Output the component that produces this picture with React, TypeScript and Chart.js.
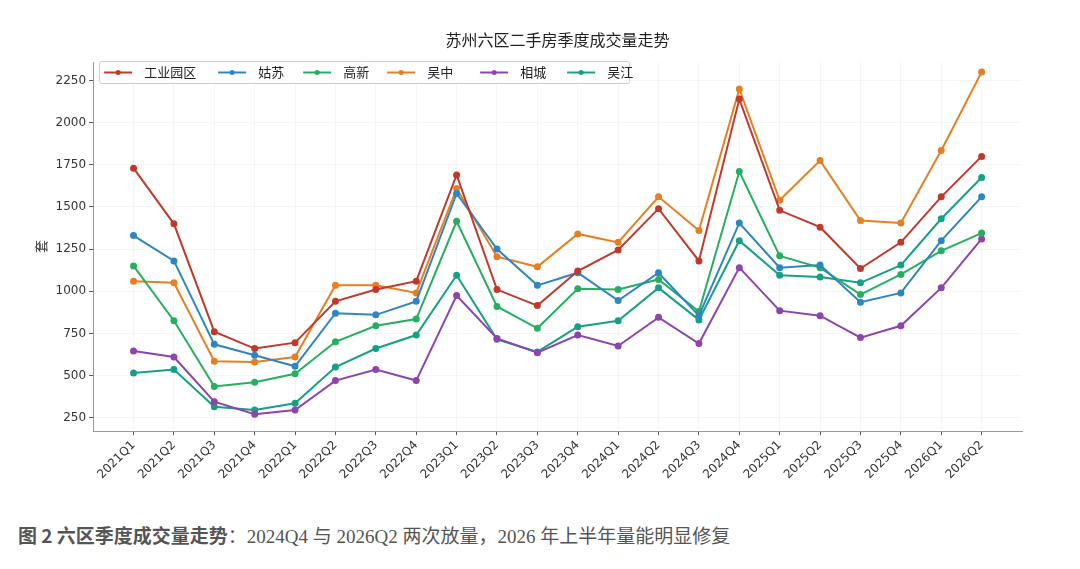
import React, { useEffect, useRef } from "react";
import { Chart, registerables } from "chart.js";
Chart.register(...registerables);

const quarters = ["2021Q1","2021Q2","2021Q3","2021Q4","2022Q1","2022Q2","2022Q3","2022Q4","2023Q1","2023Q2","2023Q3","2023Q4","2024Q1","2024Q2","2024Q3","2024Q4","2025Q1","2025Q2","2025Q3","2025Q4","2026Q1","2026Q2"];
const sip = [1730,1400,760,660,695,940,1010,1060,1690,1010,915,1120,1245,1490,1180,2140,1480,1380,1135,1290,1560,1800];
const gusu = [1330,1180,685,620,555,870,860,940,1580,1250,1035,1110,945,1110,855,1405,1140,1155,935,990,1300,1560];
const gaoxin = [1150,825,435,460,510,700,795,835,1415,910,780,1015,1010,1070,880,1710,1210,1140,980,1100,1240,1345];
const wuzhong = [1060,1050,585,580,610,1035,1035,990,1610,1205,1145,1340,1290,1560,1360,2200,1540,1775,1420,1405,1835,2300];
const xiangcheng = [645,610,345,270,295,470,535,470,975,720,635,740,675,845,690,1140,885,855,725,795,1020,1310];
const wujiang = [515,535,315,295,335,550,660,740,1095,715,640,790,825,1020,830,1300,1095,1085,1050,1155,1430,1675];
const seriesNames = ["工业园区","姑苏","高新","吴中","相城","吴江"];
const seriesColors = ["#c0392b","#2e86c1","#27ae60","#e67e22","#8e44ad","#16a085"];
const yTicks = [250,500,750,1000,1250,1500,1750,2000,2250];

const FONT = "'DejaVu Sans', 'Noto Sans CJK SC', sans-serif";

export default function App() {
  const ref = useRef<HTMLCanvasElement>(null);
  useEffect(() => {
    const all = [sip, gusu, gaoxin, wuzhong, xiangcheng, wujiang];
    const titlePlugin = {
      id: "ctitle",
      afterDraw(chart: any) {
        const { ctx, chartArea } = chart;
        ctx.save();
        ctx.font = `16px 'Noto Sans CJK SC', sans-serif`;
        ctx.fillStyle = "#222";
        ctx.textAlign = "center";
        ctx.textBaseline = "middle";
        ctx.fillText("苏州六区二手房季度成交量走势", (chartArea.left + chartArea.right) / 2, 32);
        const x0 = chartArea.left + 6, y0 = chartArea.top - 1, h = 22;
        const widths = [114, 85, 84, 93, 87, 67];
        const total = widths.reduce((a, b) => a + b, 0);
        ctx.fillStyle = "rgba(255,255,255,0.9)";
        ctx.strokeStyle = "#cccccc";
        ctx.lineWidth = 1;
        ctx.beginPath();
        ctx.roundRect(x0 + 0.5, y0 + 0.5, total, h, 2);
        ctx.fill(); ctx.stroke();
        let x = x0 + 5;
        ctx.font = `13px 'Noto Sans CJK SC', sans-serif`;
        ctx.textAlign = "left";
        seriesNames.forEach((n, i) => {
          const cy = y0 + h / 2 + 0.5;
          ctx.strokeStyle = seriesColors[i];
          ctx.fillStyle = seriesColors[i];
          ctx.lineWidth = 2;
          ctx.beginPath(); ctx.moveTo(x, cy); ctx.lineTo(x + 28, cy); ctx.stroke();
          ctx.beginPath(); ctx.arc(x + 14, cy, 2.5, 0, Math.PI * 2); ctx.fill();
          ctx.fillStyle = "#222";
          ctx.fillText(n, x + 40, cy);
          x += widths[i];
        });
        ctx.restore();
      },
    };
    const chart = new Chart(ref.current!, {
      type: "line",
      data: {
        datasets: all.map((arr, i) => ({
          label: seriesNames[i],
          data: arr.map((v, j) => ({ x: j, y: v })),
          borderColor: seriesColors[i],
          backgroundColor: seriesColors[i],
          borderWidth: 2,
          pointRadius: 2.5,
          pointHoverRadius: 2.5,
          tension: 0,
        })),
      },
      options: {
        animation: false,
        responsive: false,
        layout: { padding: { top: 54, right: 16, left: 21, bottom: 0 } },
        plugins: { legend: { display: false }, tooltip: { enabled: false }, title: { display: false } },
        scales: {
          x: {
            type: "linear",
            min: -1,
            max: 22,
            afterBuildTicks: (s: any) => { s.ticks = quarters.map((_, i) => ({ value: i })); },
            ticks: {
              callback: (v: any) => quarters[v] ?? "",
              maxRotation: 45, minRotation: 45,
              color: "#333", font: { family: FONT, size: 12 }, autoSkip: false,
            },
            grid: { color: "rgba(0,0,0,0.04)", drawTicks: true, tickColor: "#555", tickLength: 4 },
            border: { color: "#999" },
          },
          y: {
            min: 170, max: 2360,
            afterBuildTicks: (s: any) => { s.ticks = yTicks.map(v => ({ value: v })); },
            ticks: { color: "#333", font: { family: FONT, size: 12 }, callback: (v: any) => String(v) },
            title: { display: true, text: "套", color: "#333", font: { family: "'Noto Sans CJK SC'", size: 13 } },
            grid: { color: "rgba(0,0,0,0.04)", tickColor: "#555", tickLength: 4 },
            border: { color: "#999" },
          },
        },
      },
      plugins: [titlePlugin],
    });
    return () => chart.destroy();
  }, []);
  return (
    <div>
      <canvas ref={ref} width={1030} height={477} style={{ display: "block" }} />
      <div style={{ marginTop: 36, marginLeft: 10, fontSize: 19, color: "#555", fontFamily: "'Liberation Serif', 'Noto Sans CJK SC', serif" }}>
        <b style={{ fontFamily: "'Noto Sans CJK SC'", color: "#555" }}>图 2 六区季度成交量走势</b>：2024Q4 与 2026Q2 两次放量，2026 年上半年量能明显修复
      </div>
    </div>
  );
}
